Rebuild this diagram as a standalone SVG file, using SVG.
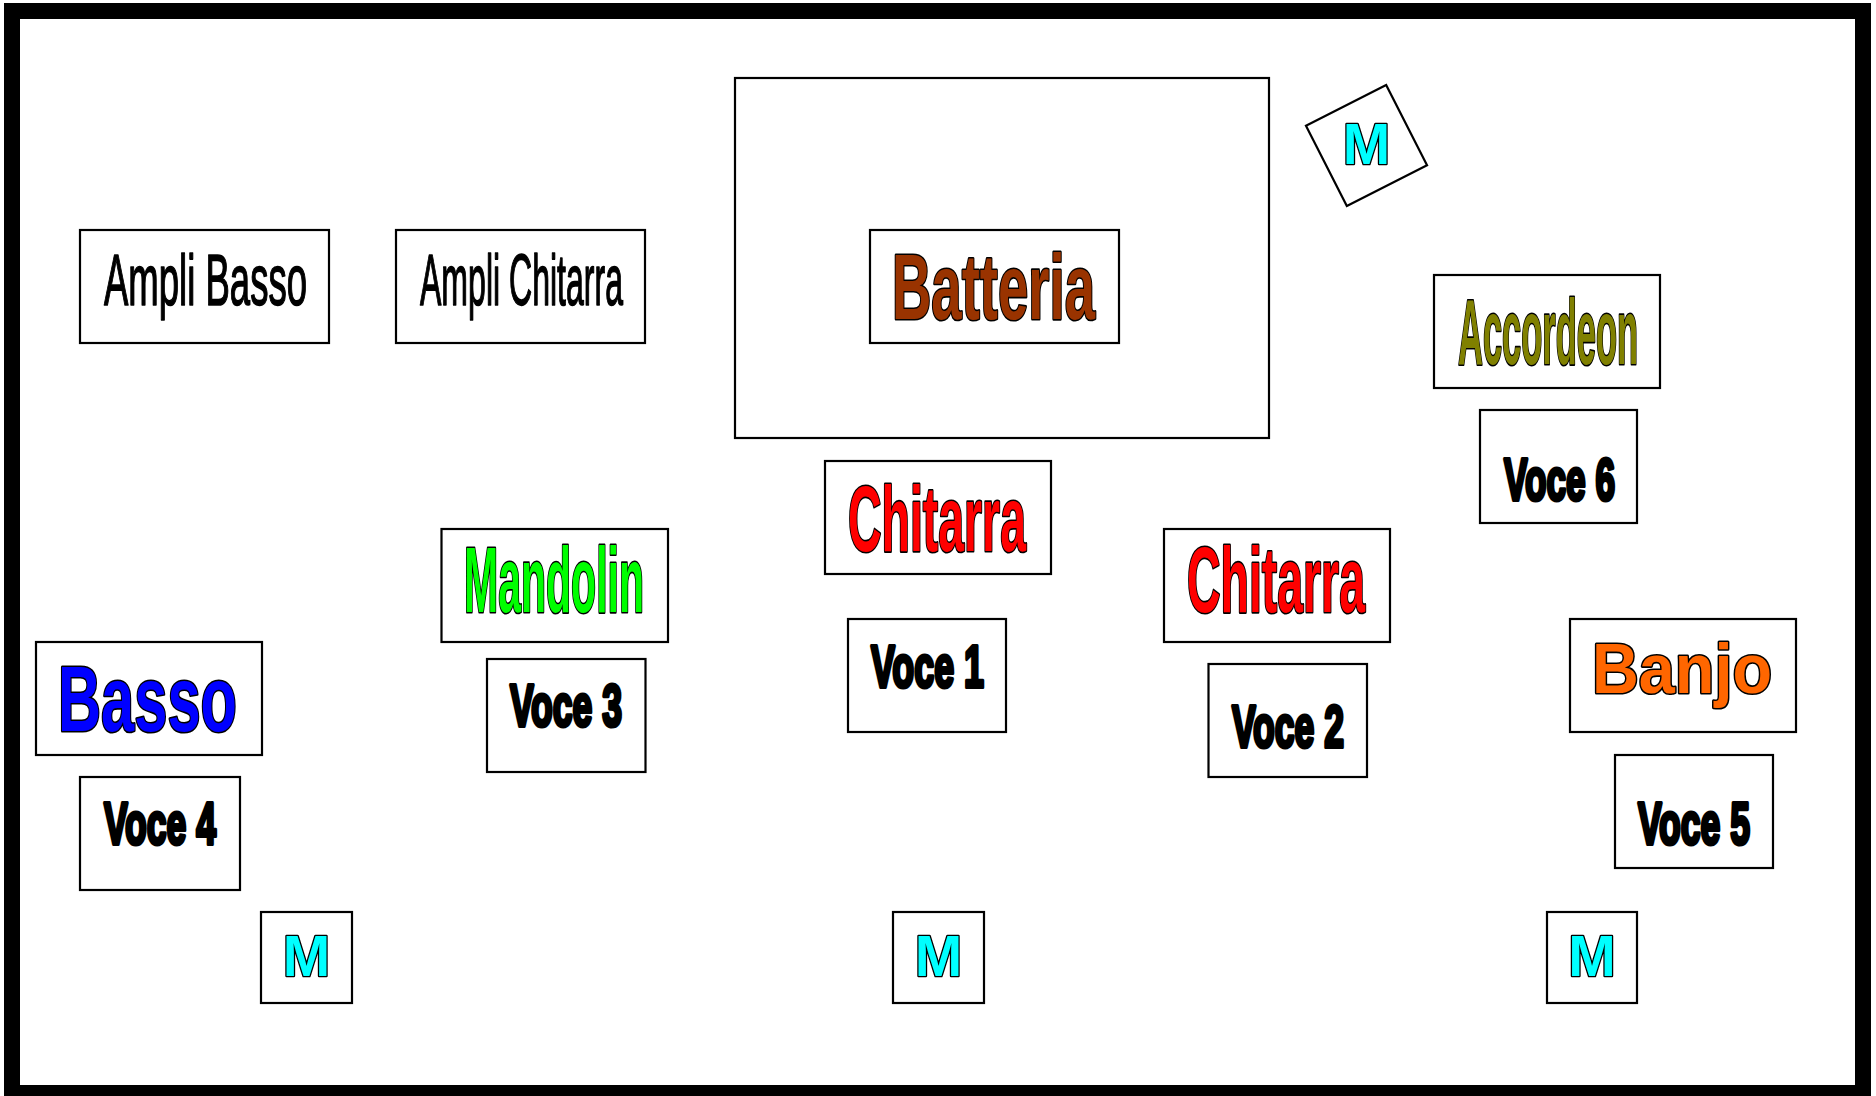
<svg xmlns="http://www.w3.org/2000/svg" width="1876" height="1096" viewBox="0 0 1876 1096">
<style>
.box{fill:#fff;stroke:#000;stroke-width:2.2}
.t{font-family:"Liberation Sans Narrow","Liberation Sans",Arial,sans-serif;font-weight:bold;stroke:#000;stroke-width:3.2;paint-order:stroke fill;stroke-linejoin:round}
.big{font-size:92px}
.voce{font-size:60px;fill:#000;stroke-width:4.2}
.amp{font-family:"Liberation Sans Narrow","Liberation Sans",Arial,sans-serif;font-size:73px;fill:#000;stroke:#000;stroke-width:1.6;stroke-linejoin:round}
.m{font-family:"Liberation Sans",Arial,sans-serif;font-weight:bold;font-size:57px;fill:#00ffff;stroke:#000;stroke-width:2.6;paint-order:stroke fill;stroke-linejoin:round;text-anchor:middle}
</style>
<rect x="0" y="0" width="1876" height="1096" fill="#fff"/>
<rect id="frame" x="12" y="11" width="1851" height="1082" fill="none" stroke="#000" stroke-width="16"/>

<g id="ampli-basso">
<rect class="box" x="80" y="230" width="249" height="113"/>
<text class="amp" x="104" y="305" textLength="203" lengthAdjust="spacingAndGlyphs">Ampli Basso</text>
</g>
<g id="ampli-chitarra">
<rect class="box" x="396" y="230" width="249" height="113"/>
<text class="amp" x="420" y="305" textLength="203" lengthAdjust="spacingAndGlyphs">Ampli Chitarra</text>
</g>

<g id="batteria-area">
<rect class="box" x="735" y="78" width="534" height="360"/>
</g>
<g id="batteria">
<rect class="box" x="870" y="230" width="249" height="113"/>
<text class="t big" x="892" y="319" fill="#993300" textLength="203" lengthAdjust="spacingAndGlyphs">Batteria</text>
</g>

<g id="mic-top">
<rect class="box" x="1321.5" y="100.5" width="90" height="90" transform="rotate(-27 1366.5 145.5)"/>
<text class="m" x="1366.5" y="164">M</text>
</g>

<g id="accordeon">
<rect class="box" x="1434" y="275" width="226" height="113"/>
<text class="t big" x="1458" y="364" fill="#808000" textLength="180" lengthAdjust="spacingAndGlyphs">Accordeon</text>
</g>
<g id="voce6">
<rect class="box" x="1480" y="410" width="157" height="113"/>
<text class="t voce" x="1504" y="500" textLength="111" lengthAdjust="spacingAndGlyphs">Voce 6</text>
</g>

<g id="chitarra-1">
<rect class="box" x="825" y="461" width="226" height="113"/>
<text class="t big" x="848" y="551" fill="#ff0000" textLength="178" lengthAdjust="spacingAndGlyphs">Chitarra</text>
</g>
<g id="voce1">
<rect class="box" x="848" y="619" width="158" height="113"/>
<text class="t voce" x="871" y="687" textLength="113" lengthAdjust="spacingAndGlyphs">Voce 1</text>
</g>

<g id="mandolin">
<rect class="box" x="441.5" y="529" width="226.5" height="113"/>
<text class="t big" x="464" y="612" fill="#00ff00" textLength="180" lengthAdjust="spacingAndGlyphs">Mandolin</text>
</g>
<g id="voce3">
<rect class="box" x="487" y="659" width="158.5" height="113"/>
<text class="t voce" x="510" y="726" textLength="112" lengthAdjust="spacingAndGlyphs">Voce 3</text>
</g>

<g id="chitarra-2">
<rect class="box" x="1164" y="529" width="226" height="113"/>
<text class="t big" x="1187" y="612" fill="#ff0000" textLength="178" lengthAdjust="spacingAndGlyphs">Chitarra</text>
</g>
<g id="voce2">
<rect class="box" x="1208.5" y="664" width="158.5" height="113"/>
<text class="t voce" x="1232" y="747" textLength="112" lengthAdjust="spacingAndGlyphs">Voce 2</text>
</g>

<g id="banjo">
<rect class="box" x="1570" y="619" width="226" height="113"/>
<text class="t" x="1592" y="693" font-size="71" fill="#ff6600" font-family="Liberation Sans, Arial, sans-serif" textLength="180" lengthAdjust="spacingAndGlyphs">Banjo</text>
</g>
<g id="voce5">
<rect class="box" x="1615" y="755" width="158" height="113"/>
<text class="t voce" x="1638" y="844" textLength="112" lengthAdjust="spacingAndGlyphs">Voce 5</text>
</g>

<g id="basso">
<rect class="box" x="36" y="642" width="226" height="113"/>
<text class="t big" x="58" y="731" fill="#0000ff" font-family="Liberation Sans, Arial, sans-serif" textLength="179" lengthAdjust="spacingAndGlyphs">Basso</text>
</g>
<g id="voce4">
<rect class="box" x="80" y="777" width="160" height="113"/>
<text class="t voce" x="104" y="844" textLength="112" lengthAdjust="spacingAndGlyphs">Voce 4</text>
</g>

<g id="mic-left">
<rect class="box" x="261" y="912" width="91" height="91"/>
<text class="m" x="306.5" y="976">M</text>
</g>
<g id="mic-center">
<rect class="box" x="893" y="912" width="91" height="91"/>
<text class="m" x="938.5" y="976">M</text>
</g>
<g id="mic-right">
<rect class="box" x="1547" y="912" width="90" height="91"/>
<text class="m" x="1592" y="976">M</text>
</g>
</svg>
